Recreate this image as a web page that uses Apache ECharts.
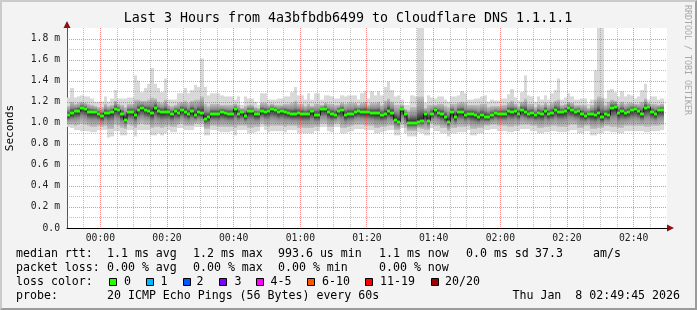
<!DOCTYPE html>
<html><head><meta charset="utf-8">
<script src="https://cdn.jsdelivr.net/npm/echarts@6/dist/echarts.min.js"></script>
<style>
html,body{margin:0;padding:0;background:#f3f3f3;}
#wrap{position:relative;width:697px;height:310px;overflow:hidden;}
#c{width:697px;height:310px;}
#frame{position:absolute;left:0;top:0;width:697px;height:310px;box-sizing:border-box;border-top:2px solid #cbcbcb;border-left:2px solid #cbcbcb;border-right:2px solid #9b9b9b;border-bottom:2px solid #9b9b9b;pointer-events:none;}
</style></head><body>
<div id="wrap"><div id="c"></div><div id="frame"></div></div>
<script>
// ---------- data ----------
const TITLE = 'Last 3 Hours from 4a3bfbdb6499 to Cloudflare DNS 1.1.1.1';
const START = -600;            // first sample: 23:50 (seconds relative to 00:00)
const STEP = 60;               // one sample per minute
const X_MIN = -600, X_MAX = 10200;  // 23:50 .. 02:50
const Y_MAX = 1.9;
const xTickValues = [0, 1200, 2400, 3600, 4800, 6000, 7200, 8400, 9600];
const xTickLabels = ['00:00','00:20','00:40','01:00','01:20','01:40','02:00','02:20','02:40'];
const yTickValues = [0, 0.2, 0.4, 0.6, 0.8, 1.0, 1.2, 1.4, 1.6, 1.8];

// median rtt (ms)
const med = [
1.07,1.09,1.11,1.11,1.14,1.13,1.10,1.10,1.10,1.08,
1.06,1.09,1.09,1.10,1.13,1.12,1.08,1.03,1.10,1.10,
1.07,1.12,1.14,1.12,1.11,1.09,1.14,1.11,1.10,1.10,
1.10,1.08,1.11,1.09,1.12,1.10,1.08,1.11,1.07,1.10,
1.09,1.04,1.05,1.08,1.08,1.08,1.10,1.09,1.08,1.08,
1.13,1.08,1.10,1.06,1.11,1.11,1.08,1.08,1.11,1.10,
1.11,1.13,1.12,1.10,1.11,1.10,1.09,1.08,1.08,1.09,
1.08,1.08,1.08,1.11,1.07,1.07,1.13,1.13,1.10,1.08,
1.07,1.11,1.12,1.07,1.08,1.08,1.10,1.11,1.10,1.10,
1.10,1.09,1.09,1.09,1.07,1.08,1.11,1.09,1.03,1.01,
1.13,1.08,1.00,1.00,1.00,1.01,1.02,1.08,1.02,1.08,
1.12,1.09,1.08,1.05,1.01,1.10,1.05,1.10,1.10,1.07,
1.08,1.08,1.07,1.05,1.07,1.05,1.05,1.07,1.09,1.08,
1.08,1.08,1.11,1.10,1.11,1.08,1.12,1.10,1.08,1.09,
1.07,1.09,1.08,1.11,1.08,1.09,1.12,1.10,1.10,1.11,
1.14,1.12,1.10,1.11,1.08,1.06,1.08,1.08,1.07,1.09,
1.05,1.08,1.07,1.14,1.15,1.09,1.11,1.09,1.10,1.12,
1.13,1.11,1.08,1.14,1.15,1.10,1.08,1.12,1.12
];
// slowest ping per sample (ms)
const hi = [
1.24,1.33,1.24,1.25,1.26,1.25,1.25,1.23,1.20,1.20,
1.20,1.25,1.20,1.23,1.31,1.23,1.23,1.23,1.24,1.24,
1.45,1.40,1.29,1.33,1.37,1.52,1.37,1.33,1.29,1.42,
1.22,1.22,1.22,1.28,1.28,1.33,1.28,1.31,1.36,1.34,
1.61,1.34,1.26,1.28,1.28,1.28,1.26,1.25,1.25,1.25,
1.22,1.25,1.17,1.25,1.23,1.23,1.20,1.17,1.28,1.28,
1.22,1.22,1.22,1.23,1.23,1.25,1.25,1.29,1.34,1.26,
1.26,1.22,1.28,1.22,1.28,1.28,1.22,1.26,1.26,1.25,
1.23,1.23,1.26,1.25,1.26,1.26,1.26,1.22,1.28,1.30,
1.23,1.30,1.26,1.30,1.26,1.34,1.39,1.31,1.25,1.26,
1.22,1.17,1.17,1.26,1.25,1.90,1.90,1.19,1.26,1.24,
1.23,1.25,1.25,1.22,1.20,1.25,1.25,1.26,1.30,1.28,
1.22,1.22,1.23,1.23,1.25,1.26,1.20,1.22,1.21,1.21,
1.23,1.23,1.27,1.32,1.24,1.21,1.29,1.45,1.26,1.25,
1.20,1.25,1.22,1.26,1.22,1.28,1.31,1.42,1.22,1.24,
1.28,1.25,1.22,1.22,1.23,1.23,1.18,1.22,1.50,1.90,
1.90,1.23,1.31,1.32,1.29,1.25,1.30,1.25,1.27,1.26,
1.23,1.25,1.31,1.37,1.22,1.25,1.25,1.22,1.23
];
// fastest ping per sample (ms)
const lo = [
0.96,0.95,0.93,0.93,0.92,0.92,0.92,0.91,0.91,0.93,
0.93,0.93,0.86,0.87,0.92,0.92,0.88,0.88,0.93,0.93,
0.87,0.93,0.93,0.93,0.93,0.88,0.88,0.90,0.88,0.90,
0.93,0.91,0.91,0.95,0.95,0.93,0.93,0.93,0.96,0.96,
0.96,0.88,0.88,0.93,0.93,0.92,0.91,0.91,0.91,0.92,
0.88,0.93,0.93,0.93,0.90,0.90,0.91,0.92,0.96,0.93,
0.91,0.92,0.92,0.92,0.92,0.91,0.93,0.93,0.93,0.90,
0.90,0.90,0.90,0.90,0.92,0.92,0.96,0.96,0.92,0.91,
0.96,0.96,0.90,0.90,0.91,0.92,0.94,0.94,0.94,0.93,
0.93,0.93,0.90,0.90,0.91,0.92,0.93,0.93,0.88,0.88,
0.95,0.90,0.87,0.87,0.87,0.91,0.90,0.88,0.88,0.95,
0.92,0.92,0.90,0.90,0.87,0.90,0.90,0.91,0.91,0.91,
0.93,0.88,0.88,0.90,0.90,0.93,0.93,0.94,0.94,0.92,
0.92,0.92,0.91,0.91,0.92,0.92,0.94,0.94,0.94,0.92,
0.92,0.90,0.90,0.91,0.91,0.92,0.92,0.91,0.91,0.91,
0.92,0.93,0.93,0.90,0.90,0.92,0.92,0.88,0.88,0.90,
0.90,0.92,0.92,0.91,0.91,0.90,0.90,0.92,0.92,0.92,
0.92,0.92,0.92,0.91,0.91,0.92,0.92,0.92,0.93
];
// upper edge of the dense smoke (ms)
const q3 = [
1.16,1.20,1.18,1.19,1.20,1.19,1.18,1.17,1.16,1.15,
1.15,1.18,1.16,1.17,1.21,1.18,1.17,1.15,1.18,1.18,
1.22,1.22,1.21,1.21,1.22,1.24,1.23,1.20,1.19,1.22,
1.17,1.16,1.17,1.19,1.20,1.21,1.19,1.21,1.22,1.22,
1.25,1.18,1.16,1.18,1.18,1.18,1.17,1.17,1.17,1.17,
1.18,1.17,1.14,1.16,1.17,1.17,1.15,1.14,1.19,1.19,
1.17,1.18,1.17,1.17,1.17,1.18,1.18,1.19,1.21,1.18,
1.18,1.16,1.18,1.16,1.18,1.18,1.17,1.19,1.18,1.18,
1.17,1.17,1.19,1.18,1.19,1.19,1.19,1.17,1.19,1.20,
1.17,1.19,1.19,1.20,1.17,1.21,1.23,1.20,1.17,1.17,
1.17,1.13,1.12,1.15,1.15,1.25,1.25,1.14,1.17,1.17,
1.17,1.18,1.18,1.16,1.15,1.18,1.18,1.19,1.20,1.19,
1.17,1.17,1.17,1.17,1.18,1.18,1.15,1.16,1.16,1.16,
1.17,1.17,1.19,1.21,1.18,1.16,1.20,1.23,1.18,1.18,
1.15,1.18,1.17,1.19,1.17,1.19,1.21,1.22,1.17,1.18,
1.20,1.19,1.17,1.17,1.17,1.17,1.14,1.17,1.22,1.25,
1.24,1.17,1.20,1.22,1.21,1.18,1.20,1.18,1.19,1.19,
1.18,1.18,1.20,1.23,1.19,1.18,1.18,1.17,1.18
];
// lower edge of the dense smoke (ms)
const q1 = [
0.98,0.98,0.97,0.98,0.99,0.98,0.97,0.96,0.96,0.97,
0.96,0.97,0.94,0.94,0.98,0.97,0.95,0.94,0.98,0.97,
0.95,0.98,0.99,0.98,0.98,0.95,0.96,0.96,0.95,0.96,
0.97,0.96,0.96,0.98,0.99,0.97,0.97,0.97,0.99,0.99,
0.99,0.94,0.94,0.97,0.97,0.96,0.96,0.96,0.96,0.96,
0.95,0.97,0.97,0.97,0.95,0.95,0.96,0.96,0.99,0.97,
0.96,0.97,0.97,0.97,0.97,0.96,0.97,0.97,0.97,0.95,
0.95,0.95,0.95,0.95,0.96,0.96,0.99,0.99,0.96,0.96,
0.99,0.99,0.95,0.95,0.96,0.97,0.98,0.98,0.98,0.97,
0.97,0.97,0.95,0.95,0.96,0.96,0.97,0.97,0.93,0.93,
0.98,0.95,0.92,0.92,0.92,0.95,0.94,0.93,0.93,0.99,
0.97,0.97,0.95,0.95,0.92,0.95,0.95,0.96,0.96,0.96,
0.97,0.94,0.94,0.95,0.95,0.97,0.97,0.98,0.98,0.97,
0.97,0.97,0.96,0.96,0.97,0.97,0.98,0.98,0.98,0.97,
0.97,0.95,0.95,0.96,0.96,0.97,0.97,0.96,0.96,0.96,
0.97,0.98,0.98,0.95,0.95,0.97,0.97,0.94,0.94,0.95,
0.95,0.97,0.97,0.96,0.96,0.95,0.95,0.97,0.97,0.97,
0.97,0.97,0.97,0.96,0.96,0.97,0.97,0.97,0.98
];

// legend
const statsRtt = ['median rtt:', '1.1 ms avg', '1.2 ms max', '993.6 us min', '1.1 ms now', '0.0 ms sd', '37.3', 'am/s'];
const statsLoss = ['packet loss:', '0.00 % avg', '0.00 % max', '0.00 % min', '0.00 % now'];
const lossLabels = ['0', '1', '2', '3', '4-5', '6-10', '11-19', '20/20'];
const lossColors = ['#26ff00', '#00b8ff', '#0059ff', '#7e00ff', '#ff00ff', '#ff5500', '#ff0000', '#a10000'];
const probeText = ['probe:', '20 ICMP Echo Pings (56 Bytes) every 60s', 'Thu Jan  8 02:49:45 2026'];

// ---------- layout / style ----------
const MONO = '"DejaVu Sans Mono", "Liberation Mono", monospace';
const statsX = [16, 107, 193, 278, 379, 466, 535, 593];
const lossBoxX = [109, 146, 183, 219, 256, 307, 365, 431];
const lossTextX = [124, 160.5, 196.5, 234.5, 270.5, 322, 380, 445];

const n = Math.min(med.length, hi.length, lo.length, q1.length, q3.length);
const rows = [];
for (let i = 0; i < n; i++) rows.push([START + i * STEP, lo[i], q1[i], med[i], q3[i], hi[i]]);
const medRows = rows.map(r => [r[0], r[3]]);
const medLine = rows.map(r => [r[0], r[3]]);

const vGrid = [];
for (let v = -300; v < X_MAX; v += 300) vGrid.push([v, v % 1200 === 0 ? 1 : 0]);
const hGrid = [];
for (let k = 1; k <= 18; k++) hGrid.push([X_MIN, +(k * 0.1).toFixed(1), k % 2 === 0 ? 1 : 0]);

const RED = 'rgba(255,40,40,0.55)';
const GRAY = 'rgba(120,120,120,0.45)';

function renderSmoke(params, api) {
  const t = api.value(0);
  const pLo = api.coord([t, api.value(1)]);
  const pHi = api.coord([t + STEP, api.value(5)]);
  const x0 = Math.round(pLo[0]), x1 = Math.round(pHi[0]);
  const yQ1 = api.coord([t, api.value(2)])[1];
  const yMed = api.coord([t, api.value(3)])[1];
  const yQ3 = api.coord([t, api.value(4)])[1];
  const m = Math.min(0.96, Math.max(0.04, (yMed - yQ3) / Math.max(1, yQ1 - yQ3)));
  return {
    type: 'group',
    children: [
      { type: 'rect', shape: { x: x0, y: pHi[1], width: x1 - x0, height: pLo[1] - pHi[1] }, style: { fill: '#d9d9d9' } },
      { type: 'rect', shape: { x: x0, y: yQ3, width: x1 - x0, height: yQ1 - yQ3 },
        style: { fill: new echarts.graphic.LinearGradient(0, 0, 0, 1, [
          { offset: 0, color: '#c2c2c2' },
          { offset: m * 0.5, color: '#8e8e8e' },
          { offset: m, color: '#1f1f1f' },
          { offset: m + (1 - m) * 0.5, color: '#8e8e8e' },
          { offset: 1, color: '#c2c2c2' }]) } }
    ]
  };
}
function renderMedian(params, api) {
  const t = api.value(0);
  const p0 = api.coord([t, api.value(1)]);
  const p1 = api.coord([t + STEP, api.value(1)]);
  const x0 = Math.round(p0[0]), x1 = Math.round(p1[0]);
  return { type: 'rect', shape: { x: x0, y: Math.round(p0[1]) - 1.5, width: x1 - x0, height: 3 }, style: { fill: lossColors[0] } };
}
function renderVGrid(params, api) {
  const cs = params.coordSys;
  const x = Math.floor(api.coord([api.value(0), 0])[0]) + 0.5;
  return { type: 'line', shape: { x1: x, y1: cs.y, x2: x, y2: cs.y + cs.height },
    style: { stroke: api.value(1) ? RED : GRAY, lineWidth: 1, lineDash: [1, 1] } };
}
function renderHGrid(params, api) {
  const cs = params.coordSys;
  const y = Math.round(api.coord([X_MIN, api.value(1)])[1]) + 0.5;
  return { type: 'line', shape: { x1: cs.x, y1: y, x2: cs.x + cs.width, y2: y },
    style: { stroke: api.value(2) ? RED : GRAY, lineWidth: 1, lineDash: [1, 1] } };
}

const textEl = (text, x, y, opts) => Object.assign({
  type: 'text', x: x, y: y, silent: true,
  style: Object.assign({ text: text, font: '11.6px ' + MONO, fill: '#000', align: 'left', verticalAlign: 'middle' }, (opts && opts.style) || {})
}, opts && opts.el ? opts.el : {});

const graphic = [];
graphic.push(textEl(TITLE, 348, 19, { style: { font: '13.3px ' + MONO, align: 'center' } }));
graphic.push(textEl('RRDTOOL / TOBI OETIKER', 687, 60, { style: { font: '8.3px ' + MONO, fill: '#a8a8a8', align: 'center' }, el: { rotation: -Math.PI / 2 } }));
graphic.push(textEl('Seconds', 10, 128, { style: { font: '11px ' + MONO, align: 'center' }, el: { rotation: Math.PI / 2 } }));
statsRtt.forEach((s, i) => graphic.push(textEl(s, statsX[i], 254)));
statsLoss.forEach((s, i) => graphic.push(textEl(s, statsX[i], 268)));
graphic.push(textEl('loss color:', 16, 282));
lossLabels.forEach((s, i) => {
  graphic.push({ type: 'rect', silent: true, shape: { x: lossBoxX[i] + 0.5, y: 278.5, width: 7, height: 7 }, style: { fill: lossColors[i], stroke: '#000', lineWidth: 1 } });
  graphic.push(textEl(s, lossTextX[i], 282));
});
graphic.push(textEl(probeText[0], 16, 296));
graphic.push(textEl(probeText[1], 107, 296));
graphic.push(textEl(probeText[2], 680, 296, { style: { align: 'right' } }));
// axis arrows
graphic.push({ type: 'polygon', silent: true, shape: { points: [[63.5, 28], [70.5, 28], [67, 21]] }, style: { fill: '#8f1010' } });
graphic.push({ type: 'polygon', silent: true, shape: { points: [[667, 224.5], [667, 231.5], [674, 228]] }, style: { fill: '#8f1010' } });

const chart = echarts.init(document.getElementById('c'), null, { renderer: 'canvas' });
chart.setOption({
  animation: false,
  backgroundColor: '#f3f3f3',
  graphic: graphic,
  grid: { left: 67, top: 28, width: 600, height: 200, show: true, backgroundColor: '#ffffff', borderWidth: 0 },
  xAxis: {
    type: 'value', min: X_MIN, max: X_MAX,
    axisLine: { show: true, onZero: false, lineStyle: { color: '#000', width: 1 } },
    axisTick: { show: false },
    splitLine: { show: false },
    axisLabel: {
      customValues: xTickValues,
      formatter: v => { const k = xTickValues.indexOf(Math.round(v)); return k >= 0 ? xTickLabels[k] : ''; },
      fontFamily: MONO, fontSize: 9.75, color: '#222', margin: 5
    }
  },
  yAxis: {
    type: 'value', min: 0, max: Y_MAX,
    axisLine: { show: true, onZero: false, lineStyle: { color: '#555', width: 1 } },
    axisTick: { show: false },
    splitLine: { show: false },
    axisLabel: {
      customValues: yTickValues,
      formatter: v => (v > Y_MAX - 0.05 ? '' : (Math.abs(v) < 1e-9 ? '0.0' : v.toFixed(1) + ' m')),
      fontFamily: MONO, fontSize: 9.75, color: '#222', margin: 7
    }
  },
  series: [
    { type: 'custom', z: 1, silent: true, clip: true, renderItem: renderSmoke, data: rows, encode: { x: 0, y: [1, 2, 3, 4, 5] } },
    { type: 'custom', z: 2, silent: true, renderItem: renderVGrid, data: vGrid, encode: { x: 0, y: 1 } },
    { type: 'custom', z: 2, silent: true, renderItem: renderHGrid, data: hGrid, encode: { x: 0, y: 1 } },
    { type: 'line', z: 3, silent: true, step: 'end', symbol: 'none', data: medLine, lineStyle: { color: '#111', width: 1 } },
    { type: 'custom', z: 4, silent: true, clip: true, renderItem: renderMedian, data: medRows, encode: { x: 0, y: 1 } }
  ]
});
</script>
</body></html>
